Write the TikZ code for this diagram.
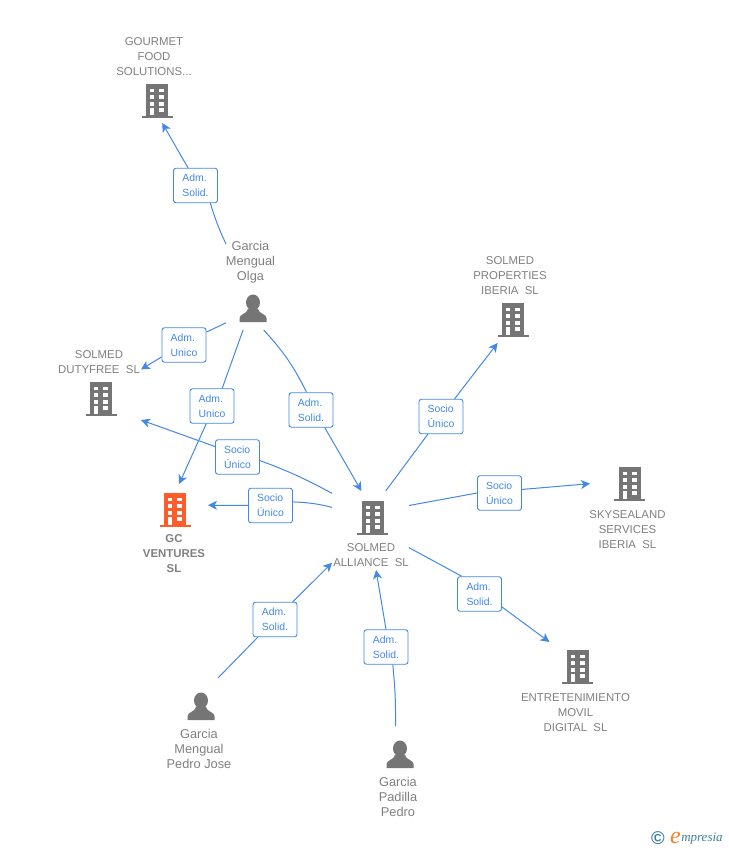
\documentclass[tikz,border=0pt]{standalone}
\usepackage{fontspec}
\setmainfont{Liberation Sans}
\newfontfamily\logofont{Liberation Serif}
\usetikzlibrary{arrows.meta, positioning}

\definecolor{flowblue}{HTML}{4288E8}
\definecolor{iconGray}{HTML}{757575}
\definecolor{nameGray}{HTML}{808080}
\definecolor{hotOrange}{HTML}{FF5C2B}
\definecolor{logoTeal}{HTML}{3E7F9C}
\definecolor{logoOrange}{HTML}{F58220}

\tikzset{
	area/.style={rectangle, inner sep=0pt, outer sep=0pt},
	nametext/.style={text=nameGray, align=center, inner sep=0pt, font=\fontsize{11.4}{15}\selectfont},
	whotext/.style={nametext, font=\fontsize{12.8}{15}\selectfont},
	role/.style={draw=flowblue, fill=white, line width=0.9pt, rounded corners=2.5pt, text=flowblue, align=left,
		minimum width=44pt, minimum height=34.5pt, inner sep=0pt, font=\fontsize{10.4}{15}\selectfont},
	flow/.style={flowblue, line width=1pt},
	flowtip/.style={flow, -{Stealth[length=9pt, width=9pt, inset=2.5pt]}},
	building/.pic={
		\fill [pic actions] (-11, -34) rectangle (11, -1);
		\fill [pic actions] (-15.5, -2) rectangle (15.5, 0);
		\foreach \y in {-29.3, -22.7, -16} {
			\fill [white] (-7, \y) rectangle (-2.7, \y + 3.6);
			\fill [white] (2.3, \y) rectangle (7, \y + 3.6);
		}
		\fill [white] (-7, -10) rectangle (-2.7, -2.5);
		\fill [white] (2.3, -10) rectangle (7, -5.7);
	},
	person/.pic={
		\fill [pic actions] (0, -19.5) ellipse (7 and 8);
		\fill [pic actions] (-13.5, 0) -- (-13.5, -4) .. controls (-13.5, -8) and (-6, -8) .. (-5, -13)
			-- (5, -13) .. controls (6, -8) and (13.5, -8) .. (13.5, -4) -- (13.5, 0) -- cycle;
	},
}

\begin{document}
\begin{tikzpicture}[x=1pt, y=-1pt]
	\useasboundingbox (0, 0) rectangle (728, 850);

	% areas the arrows stop at
	\node [area, minimum width=80pt, minimum height=91pt]	(gourmet) at (155, 77.5) {};
	\node [area, minimum width=54pt, minimum height=86pt]	(olga) at (253, 287) {};
	\node [area, minimum width=80pt, minimum height=72pt]	(dutyfree) at (101, 384) {};
	\node [area, minimum width=66pt, minimum height=94pt]	(ventures) at (175, 531) {};
	\node [area, minimum width=75pt, minimum height=90pt]	(properties) at (510.5, 298) {};
	\node [area, minimum width=77pt, minimum height=79pt]	(alliance) at (370.5, 530.5) {};
	\node [area, minimum width=78pt, minimum height=88pt]	(skysealand) at (629, 509) {};
	\node [area, minimum width=113pt, minimum height=94pt]	(movil) at (575.5, 689) {};
	\node [area, minimum width=68pt, minimum height=94pt]	(pedrojose) at (199, 725) {};
	\node [area, minimum width=40pt, minimum height=94pt]	(padilla) at (398, 773) {};

	% names
	\node [nametext]	(gourmetname) at (154, 57) {GOURMET\\FOOD\\SOLUTIONS...};
	\node [whotext]	(olganame) at (250.5, 262) {Garcia\\Mengual\\Olga};
	\node [nametext]	(dutyfreename) at (99, 362.5) {SOLMED\\DUTYFREE~~SL};
	\node [nametext, font=\fontsize{11.4}{15}\selectfont\bfseries]	(venturesname) at (174, 554) {GC\\VENTURES\\SL};
	\node [nametext]	(propertiesname) at (510, 276) {SOLMED\\PROPERTIES\\IBERIA~~SL};
	\node [nametext]	(alliancename) at (371, 555.5) {SOLMED\\ALLIANCE~~SL};
	\node [nametext]	(skysealandname) at (627.5, 530) {SKYSEALAND\\SERVICES\\IBERIA~~SL};
	\node [nametext]	(movilname) at (575.5, 713) {ENTRETENIMIENTO\\MOVIL\\DIGITAL~~SL};
	\node [whotext]	(pedrojosename) at (199, 749) {Garcia\\Mengual\\Pedro Jose};
	\node [whotext]	(padillaname) at (398, 797) {Garcia\\Padilla\\Pedro};

	% icons
	\pic [iconGray]	at (157, 118) {building};
	\pic [iconGray]	at (101, 416) {building};
	\pic [hotOrange]	at (175, 527) {building};
	\pic [iconGray]	at (513, 337) {building};
	\pic [iconGray]	at (372.5, 535) {building};
	\pic [iconGray]	at (629.5, 501) {building};
	\pic [iconGray]	at (577.5, 684) {building};
	\pic [iconGray]	at (253, 322) {person};
	\pic [iconGray]	at (201, 720) {person};
	\pic [iconGray]	at (400, 768) {person};

	% roles
	\node [role]	(admgourmet) at (195.5, 185.5) {Adm.\\Solid.};
	\node [role]	(admdutyfree) at (184, 345) {Adm.\\Unico};
	\node [role]	(admventures) at (212, 406) {Adm.\\Unico};
	\node [role]	(admalliance) at (311, 410) {Adm.\\Solid.};
	\node [role]	(sociodutyfree) at (237.5, 457) {Socio\\Único};
	\node [role]	(socioventures) at (270.5, 505.5) {Socio\\Único};
	\node [role]	(socioproperties) at (441, 416.5) {Socio\\Único};
	\node [role]	(socioskysealand) at (499.5, 493) {Socio\\Único};
	\node [role]	(admmovil) at (479.5, 594) {Adm.\\Solid.};
	\node [role]	(admpedrojose) at (275, 619.5) {Adm.\\Solid.};
	\node [role]	(admpadilla) at (386, 647) {Adm.\\Solid.};

	% connectors
	\draw [flow]	(olga.north west) to [bend left=4] (admgourmet.-50);
	\draw [flowtip]	(admgourmet.113) to (gourmet.-81.3);

	\draw [flow]	(olga.233.9) to (admdutyfree.30.6);
	\draw [flowtip]	(admdutyfree.208) to (dutyfree.20.6);

	\draw [flow]	(olga.-103.1) to (admventures.60);
	\draw [flowtip]	(admventures.252.7) to (ventures.85.1);

	\draw [flow]	(olga.-76.9) to [bend left=8] (admalliance.104);
	\draw [flowtip]	(admalliance.-52) to (alliance.103.9);

	\draw [flow]	(alliance.136.5) to [bend right=4] (sociodutyfree.-9.6);
	\draw [flowtip]	(sociodutyfree.155) to (dutyfree.south east);

	\draw [flow]	(alliance.149.7) to [bend right=6] (socioventures.9);
	\draw [flowtip]	(socioventures) to (ventures.38.2);

	\draw [flow]	(alliance.69.8) to (socioproperties);
	\draw [flowtip]	(socioproperties) to (properties.-106.7);

	\draw [flow]	(alliance.33.5) to (socioskysealand.west);
	\draw [flowtip]	(socioskysealand.9.5) to (skysealand.147.3);

	\draw [flow]	(alliance.-24.4) to (admmovil.135);
	\draw [flowtip]	(admmovil.-30) to (movil.119.4);

	\draw [flow]	(pedrojose.68) to (admpedrojose);
	\draw [flowtip]	(admpedrojose) to (alliance.220);

	\draw [flow]	(padilla.93.7) to [bend right=3] (admpadilla.-69);
	\draw [flowtip]	(admpadilla.north) to (alliance.-82);

	% logo
	\node [text=logoTeal, inner sep=0pt, font=\fontsize{18.5}{18.5}\selectfont\bfseries]	(logocopy) at (658, 838) {©};
	\node [text=logoOrange, inner sep=0pt, font=\logofont\itshape\fontsize{24}{24}\selectfont, right=5pt of logocopy]	(logoe) {e};
	\node [text=logoTeal, inner sep=0pt, font=\logofont\itshape\fontsize{13}{13}\selectfont, right=0pt of logoe, yshift=-0.5pt]	(logoname) {mpresia};
\end{tikzpicture}
\end{document}
